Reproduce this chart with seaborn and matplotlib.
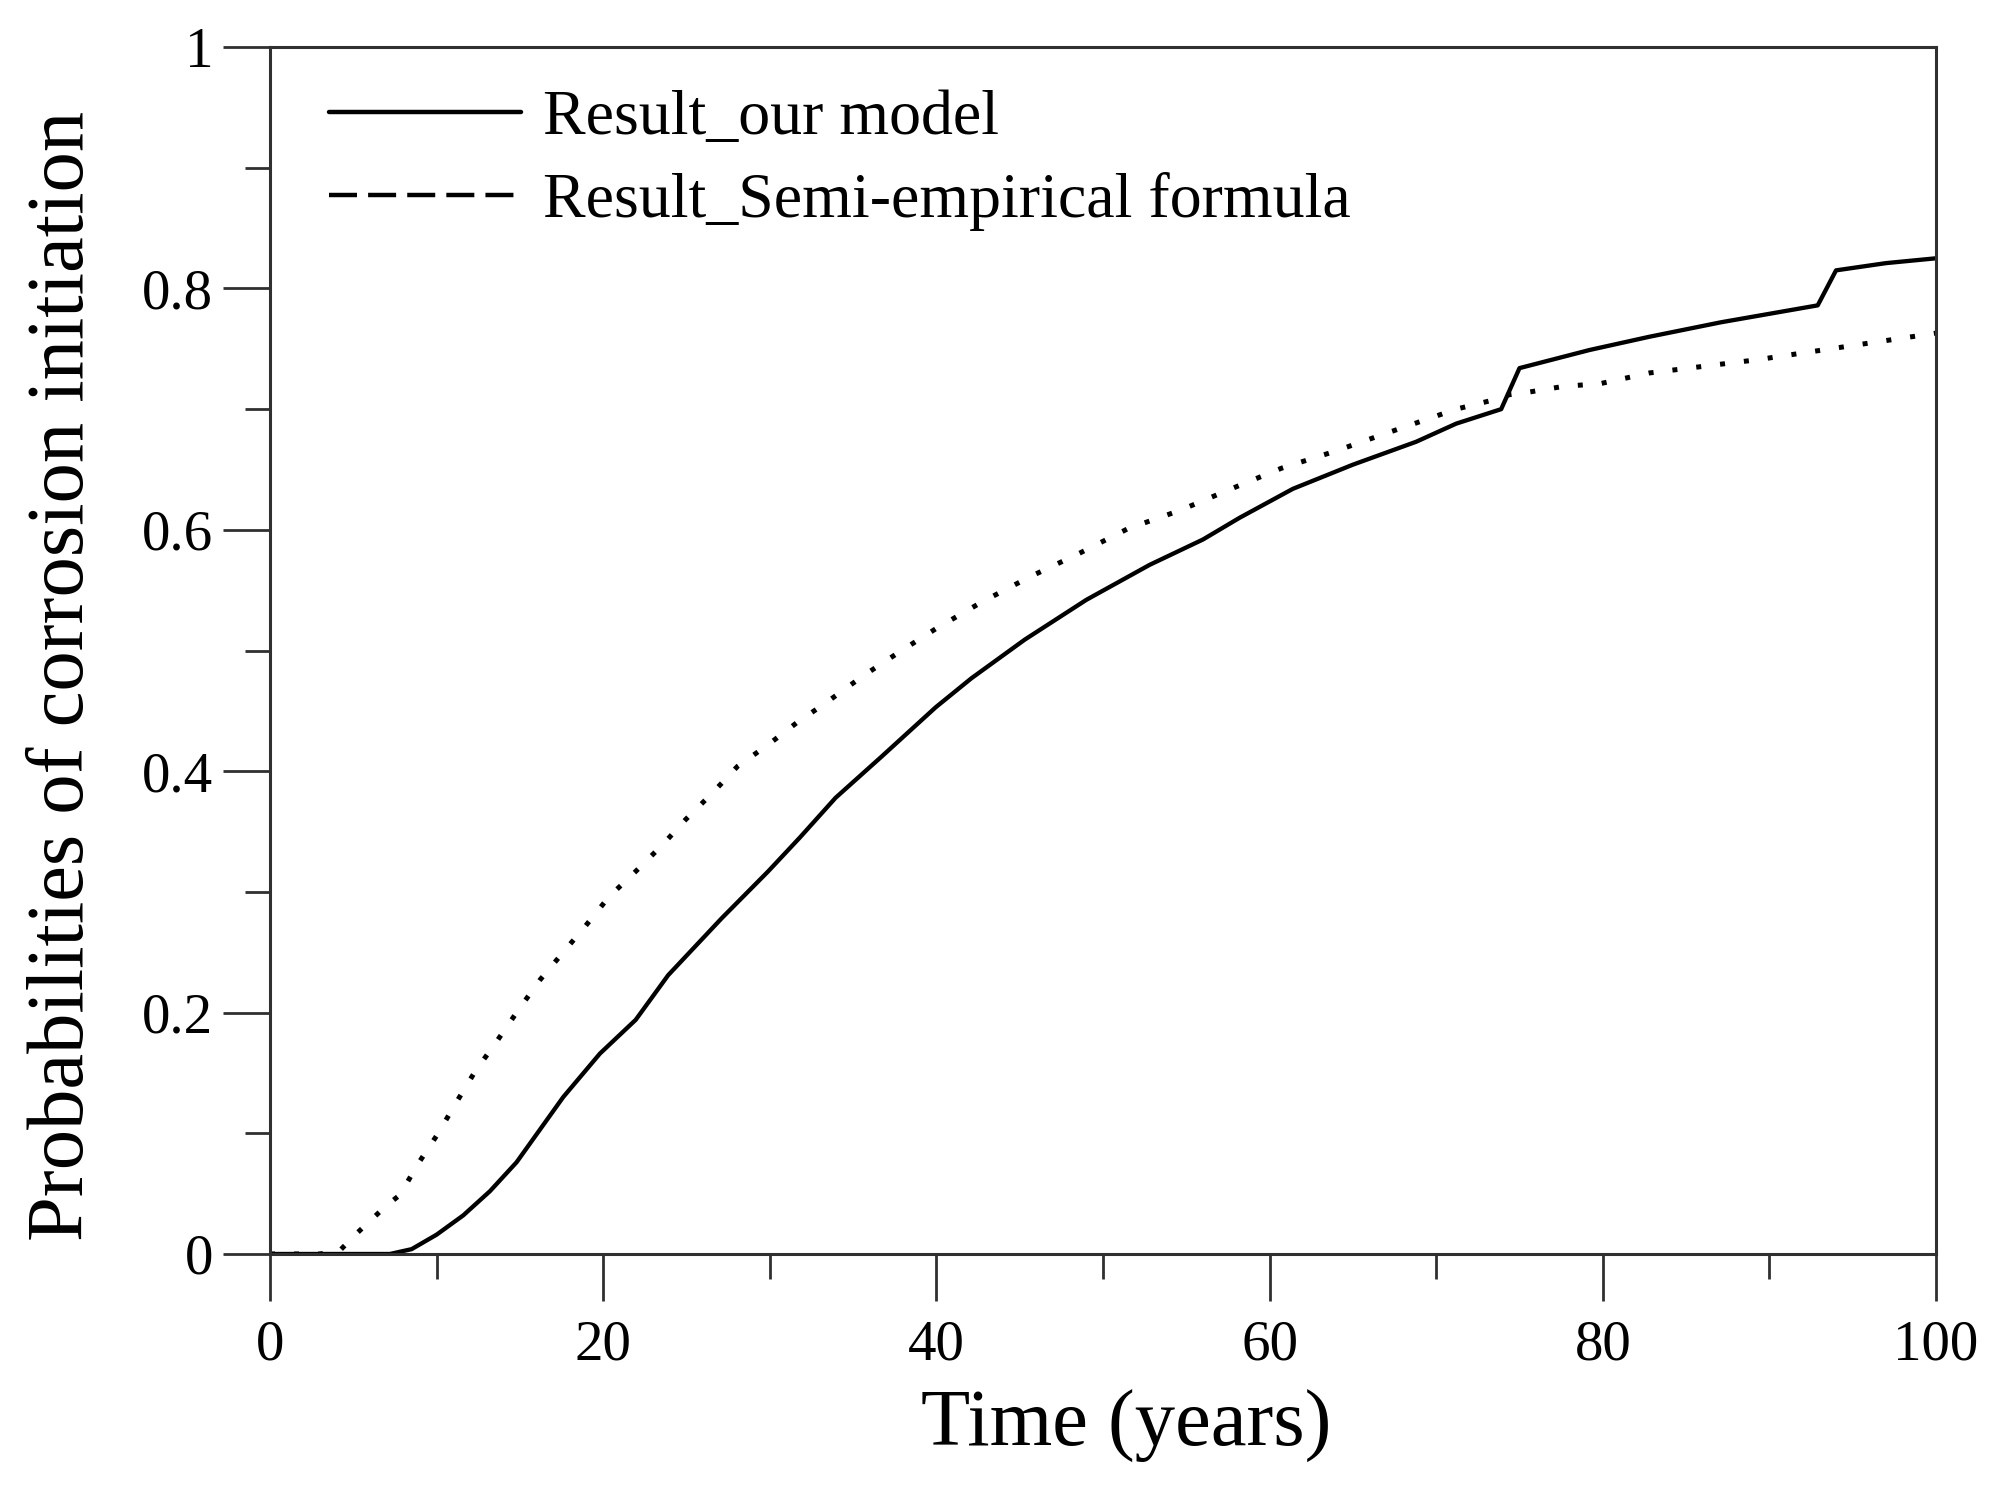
import pandas as pd
import matplotlib
matplotlib.use("Agg")
import matplotlib.pyplot as plt
from matplotlib.lines import Line2D
from matplotlib.ticker import MultipleLocator, FuncFormatter
import seaborn as sns

# values
years_model = [0, 7.2, 8.5, 10.0, 11.6, 13.2, 14.8, 17.6, 19.8, 21.95, 23.9, 27.1,
               29.9, 31.8, 33.95, 36.7, 39.96, 42.1, 45.3, 49.0, 52.8, 56.0, 58.2,
               61.4, 65.0, 68.8, 71.2, 73.9, 75.0, 79.2, 82.8, 87.1, 92.9, 94.0,
               97.0, 100]
p_model = [0, 0, 0.004, 0.016, 0.032, 0.052, 0.076, 0.130, 0.166, 0.194, 0.231, 0.278,
           0.317, 0.345, 0.378, 0.412, 0.453, 0.477, 0.509, 0.542, 0.571, 0.592, 0.610,
           0.634, 0.654, 0.673, 0.688, 0.700, 0.734, 0.749, 0.760, 0.772, 0.786, 0.815,
           0.821, 0.825]

years_semi = [0, 3.0, 4.2, 5.2, 6.9, 7.8, 8.9, 10.05, 11.2, 12.3, 13.6, 14.9, 16.2,
              17.6, 18.95, 20.35, 21.95, 23.56, 24.95, 26.56, 28.06, 29.9, 31.6, 33.4,
              35.6, 37.8, 39.96, 42.7, 45.6, 48.5, 51.5, 54.6, 57.7, 60.7, 63.9, 67.0,
              69.1, 71.2, 73.4, 74.4, 75.5, 77.7, 79.8, 82.8, 89.3, 100]
p_semi = [0, 0, 0.003, 0.017, 0.039, 0.049, 0.075, 0.099, 0.126, 0.151, 0.176, 0.202,
          0.227, 0.250, 0.272, 0.296, 0.317, 0.339, 0.360, 0.382, 0.404, 0.422, 0.440,
          0.457, 0.479, 0.499, 0.518, 0.540, 0.561, 0.580, 0.601, 0.616, 0.634, 0.651,
          0.665, 0.680, 0.690, 0.700, 0.7075, 0.712, 0.714, 0.719, 0.721, 0.730, 0.741,
          0.763]

labels = ["Result_our model", "Result_Semi-empirical formula"]

sns.set_theme(style="ticks")
plt.rcParams["font.family"] = ["Liberation Serif", "DejaVu Serif"]
plt.rcParams["text.color"] = "black"
plt.rcParams["axes.labelcolor"] = "black"

df_model = pd.DataFrame({"year": years_model, "p": p_model})
df_semi = pd.DataFrame({"year": years_semi, "p": p_semi})

fig = plt.figure(figsize=(20, 14.9), dpi=100)
ax = fig.add_axes([0.135, 0.1584, 0.833, 0.810])

sns.lineplot(data=df_model, x="year", y="p", ax=ax, color="black", lw=3.1,
             estimator=None, sort=False)
sns.lineplot(data=df_semi, x="year", y="p", ax=ax, color="black", lw=3.6,
             linestyle=(0, (1.0, 3.8)), estimator=None, sort=False)

ax.set_xlim(0, 100)
ax.set_ylim(0, 1)
ax.xaxis.set_major_locator(MultipleLocator(20))
ax.xaxis.set_minor_locator(MultipleLocator(10))
ax.yaxis.set_major_locator(MultipleLocator(0.2))
ax.yaxis.set_minor_locator(MultipleLocator(0.1))
ax.yaxis.set_major_formatter(FuncFormatter(lambda v, _: f"{v:g}"))
ax.xaxis.set_major_formatter(FuncFormatter(lambda v, _: f"{v:g}"))

ax.tick_params(which="major", direction="out", length=34, width=2, pad=7,
               labelsize=41, color="#303030", labelcolor="black",
               top=False, right=False)
ax.tick_params(axis="x", which="major", pad=13)
ax.tick_params(which="minor", direction="out", length=18, width=2,
               color="#303030", top=False, right=False)
for s in ax.spines.values():
    s.set_visible(True)
    s.set_linewidth(2.2)
    s.set_color("#303030")

ax.set_xlabel("Time (years)", fontsize=58)
ax.set_ylabel("Probabilities of corrosion initiation", fontsize=58)
ax.xaxis.set_label_coords(0.514, -0.113)
ax.yaxis.set_label_coords(-0.102, 0.479)

handles = [Line2D([], [], color="black", lw=3.2),
           Line2D([], [], color="black", lw=3.2, linestyle=(0, (6.3, 2.5)))]
ax.legend(handles, labels, loc="upper left", bbox_to_anchor=(0.0354, 0.965),
          frameon=False, fontsize=46, handlelength=3.0, handletextpad=0.35,
          labelspacing=0.38, borderpad=0, borderaxespad=0)

fig.savefig("out.png", dpi=100, facecolor="white")
